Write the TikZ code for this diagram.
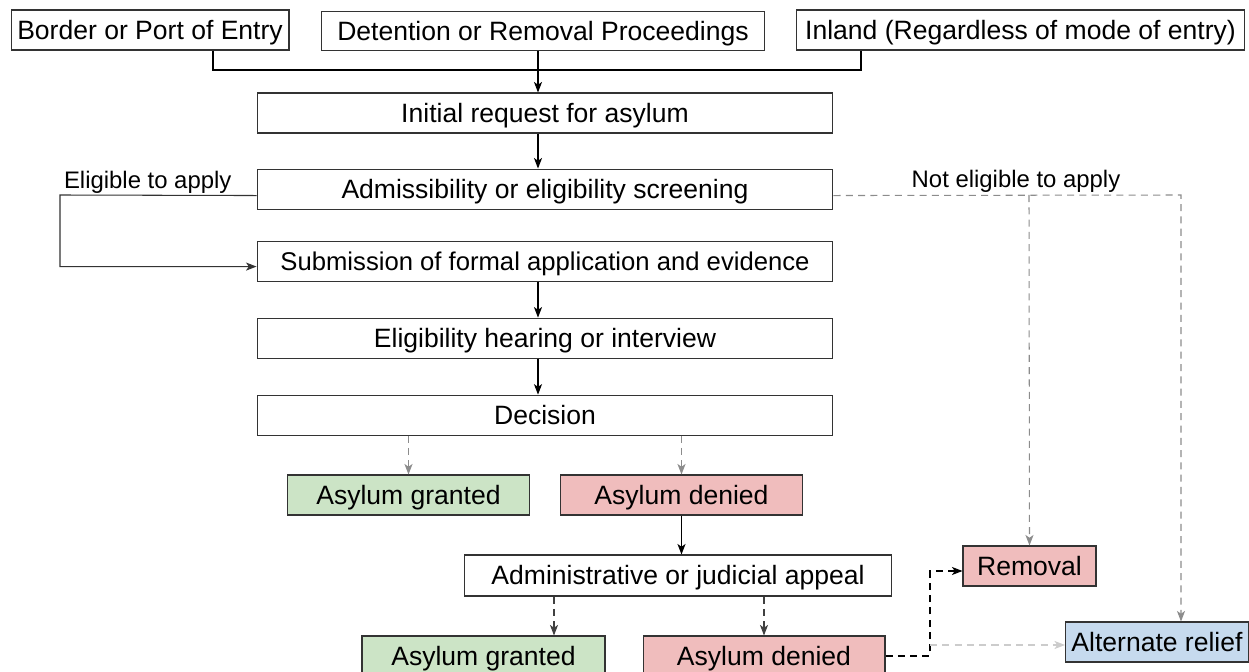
\documentclass[tikz,border=0pt]{standalone}
\usepackage{fontspec}
\setmainfont{Liberation Sans}
\usetikzlibrary{positioning}
\usetikzlibrary{arrows.meta}
\definecolor{grantfill}{HTML}{CCE4C6}
\definecolor{denyfill}{HTML}{F0BDBD}
\definecolor{relieffill}{HTML}{C6DAEE}
\tikzset{basic/.style={draw=black!80,line width=0.6pt,rectangle,inner sep=0pt,minimum height=0.8cm,text height=11.6pt,text depth=0.8pt,font=\fontsize{15.1}{18}\selectfont}}
\tikzset{source/.style={basic}}
\tikzset{stage/.style={basic,minimum width=11.52cm}}
\tikzset{granted/.style={basic,fill=grantfill,minimum width=4.84cm}}
\tikzset{denied/.style={basic,fill=denyfill,minimum width=4.84cm}}
\tikzset{relief/.style={basic,fill=relieffill}}
\tikzset{note/.style={font=\fontsize{13.6}{16}\selectfont,inner sep=2pt}}
\tikzset{maybe/.style={draw=black!45,dash pattern=on 4pt off 3pt}}
\begin{document}
\begin{tikzpicture}[x=0.02cm,y=-0.02cm,line width=0.6pt,>={Stealth[length=6pt,width=4.6pt,inset=1.6pt]}]
        \useasboundingbox (0,0) rectangle (1249,672);
        % where the request starts
        \node[source,minimum width=5.56cm] (border) at (150,30) {Border or Port of Entry};
        \node[source,minimum width=8.88cm,minimum height=0.78cm] (detention) at (543,31) {Detention or Removal Proceedings};
        \node[source,minimum width=8.98cm] (inland) at (1020.5,30) {Inland (Regardless of mode of entry)};
        \coordinate (spine) at (538,70);
        \coordinate (fromborder) at (213,70);
        \coordinate (frominland) at (861,70);
        % main column
        \node[stage] (initial) at (545,113) {Initial request for asylum};
        \node[stage,below=0.7cm of initial] (screening) {Admissibility or eligibility screening};
        \node[stage,below=0.62cm of screening,font=\fontsize{14.6}{18}\selectfont] (submission) {Submission of formal application and evidence};
        \node[stage,below=0.72cm of submission] (hearing) {Eligibility hearing or interview};
        \node[stage,below=0.72cm of hearing] (decision) {Decision};
            \path[draw] (border.south -| fromborder) -- (fromborder) -- (frominland) -- (inland.south -| frominland);
            \path[draw,->] (detention.south -| spine) -- (initial.north -| spine);
            \path[draw,->] (initial.south -| spine) -- (screening.north -| spine);
            \path[draw,->] (submission.south -| spine) -- (hearing.north -| spine);
            \path[draw,->] (hearing.south -| spine) -- (decision.north -| spine);
        % eligible / not eligible
        \coordinate (eligible) at (60,195);
        \coordinate (toremoval) at (1029,195);
        \coordinate (torelief) at (1181,195);
            \path[draw,draw=black!80,->] ([yshift=-0.13cm]screening.west) -- (eligible) |- ([yshift=-0.11cm]submission.west);
        \node[note,anchor=south west,yshift=-0.06cm] at (eligible) {Eligible to apply};
        % outcomes
        \node[granted] (granted) at (408.5,495) {Asylum granted};
        \node[denied] (denied) at (681.5,495) {Asylum denied};
        \node[basic,minimum width=8.56cm,minimum height=0.82cm] (appeal) at (678,575.5) {Administrative or judicial appeal};
        \node[granted,minimum width=4.86cm] (granted2) at (483.5,656) {Asylum granted};
        \node[denied] (denied2) at (764,656) {Asylum denied};
        \node[denied,minimum width=2.66cm] (removal) at (1029.5,566) {Removal};
        \node[relief,minimum width=3.66cm] (relief) at (1157,642) {Alternate relief};
        \coordinate (appealleft) at (554,0);
        \coordinate (fork) at (930,0);
            \path[draw,maybe,->] ([yshift=-0.13cm]screening.east) -- (torelief) -- (relief.north -| torelief);
            \path[draw,maybe,->] (toremoval) -- (removal.north);
        \node[note,anchor=south] at (1016,197) {Not eligible to apply};
            \path[draw,maybe,->] (decision.south -| granted) -- (granted.north);
            \path[draw,maybe,->] (decision.south -| denied) -- (denied.north);
            \path[draw,->] (denied.south) -- (appeal.north -| denied);
            \path[draw,maybe,draw=black!75,->] (appeal.south -| appealleft) -- (granted2.north -| appealleft);
            \path[draw,maybe,draw=black!75,->] (appeal.south -| denied2) -- (denied2.north);
            \path[draw,dash pattern=on 4pt off 3pt,->] (denied2.east) -- (denied2.east -| fork) |- ([yshift=-0.1cm]removal.west);
            \path[draw,maybe,draw=black!20,->] (fork |- 0,645) -- (relief.west |- 0,645);
    \end{tikzpicture}
\end{document}
